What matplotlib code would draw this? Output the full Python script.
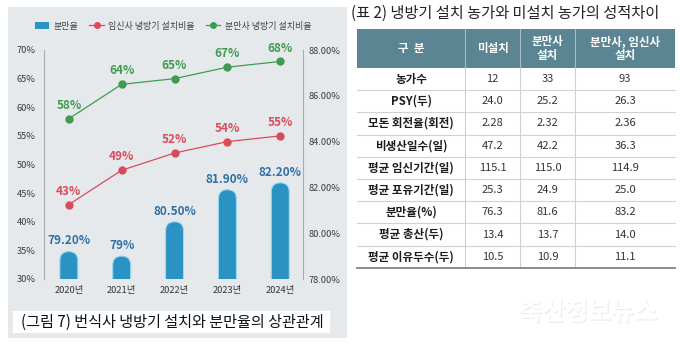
import matplotlib
matplotlib.use("Agg")
import matplotlib.pyplot as plt
import matplotlib.patheffects as pe
from matplotlib.lines import Line2D
from matplotlib.patches import FancyBboxPatch, Patch, Rectangle

plt.rcParams["font.family"] = ["Noto Sans CJK KR", "DejaVu Sans"]

# chart data (그림 7)
years = ["2020년", "2021년", "2022년", "2023년", "2024년"]
farrowing_rate = [79.2, 79.0, 80.5, 81.9, 82.2]
farrowing_labels = ["79.20%", "79%", "80.50%", "81.90%", "82.20%"]
gestation_ac = [43, 49, 52, 54, 55]
farrowing_ac = [58, 64, 65, 67, 68]
legend_labels = ["분만율", "임신사 냉방기 설치비율", "분만사 냉방기 설치비율"]
caption = "(그림 7) 번식사 냉방기 설치와 분만율의 상관관계"

# table data (표 2)
table_title = "(표 2) 냉방기 설치 농가와 미설치 농가의 성적차이"
col_headers = ["구  분", "미설치", "분만사\n설치", "분만사, 임신사\n설치"]
row_labels = ["농가수", "PSY(두)", "모돈 회전율(회전)", "비생산일수(일)",
              "평균 임신기간(일)", "평균 포유기간(일)", "분만율(%)",
              "평균 총산(두)", "평균 이유두수(두)"]
no_install = ["12", "24.0", "2.28", "47.2", "115.1", "25.3", "76.3", "13.4", "10.5"]
farrowing_install = ["33", "25.2", "2.32", "42.2", "115.0", "24.9", "81.6", "13.7", "10.9"]
both_install = ["93", "26.3", "2.36", "36.3", "114.9", "25.0", "83.2", "14.0", "11.1"]

BLUE = "#2b93c4"
RED = "#d94b5b"
GREEN = "#3f9b50"

W, H = 680, 346
fig = plt.figure(figsize=(W / 100, H / 100), dpi=100)

# pixel-coordinate layer for panel, caption, table
bg = fig.add_axes([0, 0, 1, 1])
bg.set_xlim(0, W)
bg.set_ylim(H, 0)
bg.axis("off")
bg.set_zorder(-1)
bg.add_patch(Rectangle((8, 7), 339, 331, color="#e6e9ec", lw=0))
bg.add_patch(Rectangle((13, 311), 317, 22, color="white", lw=0))
bg.text(21, 322, caption, fontsize=10.9, ha="left", va="center", color="#111111")

# chart
ax_l, ax_r, ax_t, ax_b = 44, 303, 50, 279
ax = fig.add_axes([ax_l / W, 1 - ax_b / H, (ax_r - ax_l) / W, (ax_b - ax_t) / H])
ax2 = ax.twinx()
ax2.set_zorder(1)
ax.set_zorder(2)
ax.patch.set_visible(False)

x = list(range(len(years)))
ax.set_xlim(-0.47, 4.43)
ax.set_ylim(30, 70)
ax2.set_ylim(78, 88)

bars = ax2.bar(x, [v - 77 for v in farrowing_rate], bottom=77, width=0.34)
px_x = (ax_r - ax_l) / (ax.get_xlim()[1] - ax.get_xlim()[0])
px_y = (ax_b - ax_t) / (ax2.get_ylim()[1] - ax2.get_ylim()[0])
for rect in bars:
    rect.set_visible(False)
    w = rect.get_width()
    rounded = FancyBboxPatch((rect.get_x(), rect.get_y()), w, rect.get_height(),
                             boxstyle=f"round,pad=0,rounding_size={w / 2}",
                             mutation_aspect=px_x / px_y,
                             facecolor=BLUE, edgecolor="#9ad8ef", lw=0.8)
    ax2.add_patch(rounded)
for xi, v, lbl in zip(x, farrowing_rate, farrowing_labels):
    ax2.annotate(lbl, (xi, v), xytext=(0, 3), textcoords="offset points",
                 ha="center", va="bottom", fontsize=8.5, fontweight="bold",
                 color="#2f6fa6")

for vals, col in [(gestation_ac, RED), (farrowing_ac, GREEN)]:
    ax.plot(x, vals, color=col, lw=0.9, marker="o", ms=5)
    for xi, v in zip(x, vals):
        ax.annotate(f"{v}%", (xi, v), xytext=(0, 5), textcoords="offset points",
                    ha="center", va="bottom", fontsize=8.5, fontweight="bold",
                    color=col)

ax.set_yticks(range(30, 71, 5), [f"{t}%" for t in range(30, 71, 5)])
ax2.set_yticks(range(78, 89, 2), [f"{t:.2f}%" for t in range(78, 89, 2)])
ax.set_xticks(x, years)
ax.tick_params(axis="y", length=0, labelsize=6.7, labelcolor="#3c3c3c", pad=6)
ax2.tick_params(axis="y", length=0, labelsize=6.7, labelcolor="#3c3c3c", pad=4)
ax.tick_params(axis="x", length=0, labelsize=6.7, labelcolor="#333333", pad=5)
for a in (ax, ax2):
    for s in ("top", "bottom"):
        a.spines[s].set_visible(False)
ax.spines["right"].set_visible(False)
ax2.spines["left"].set_visible(False)
ax.spines["left"].set_color("#a9adb1")
ax2.spines["right"].set_color("#a9adb1")
ax.spines["left"].set_linewidth(0.8)
ax2.spines["right"].set_linewidth(0.8)

handles = [Patch(facecolor=BLUE, edgecolor="none"),
           Line2D([], [], color=RED, marker="o", ms=4, lw=0.9),
           Line2D([], [], color=GREEN, marker="o", ms=4, lw=0.9)]
fig.legend(handles, legend_labels, loc="center", bbox_to_anchor=(173 / W, 1 - 26 / H),
           ncol=3, frameon=False, fontsize=6.5, handlelength=1.6, handleheight=0.9,
           handletextpad=0.5, columnspacing=1.2, labelcolor="#444444")

# table
bg.text(351, 13.5, table_title, fontsize=11, ha="left", va="center", color="#222222")
xs = [357, 465, 520, 575, 675]
head_top, head_bot, row_h = 29, 68, 22.2
n = len(row_labels)
tbl_bot = head_bot + n * row_h
bg.add_patch(Rectangle((xs[0], head_top), xs[-1] - xs[0], head_bot - head_top,
                       color="#5b8593", lw=0))
for i, h in enumerate(col_headers):
    bg.text((xs[i] + xs[i + 1]) / 2, (head_top + head_bot) / 2, h, color="white",
            fontsize=8.3, fontweight="bold", ha="center", va="center", linespacing=1.1)
for xv in xs[1:-1]:
    bg.plot([xv, xv], [head_top, head_bot], color="#a5bcc5", lw=0.8)
    bg.plot([xv, xv], [head_bot, tbl_bot], color="#c9cfd4", lw=0.8)

columns = [row_labels, no_install, farrowing_install, both_install]
for r in range(n):
    yc = head_bot + (r + 0.5) * row_h
    for c, col in enumerate(columns):
        bg.text((xs[c] + xs[c + 1]) / 2, yc, col[r], ha="center", va="center",
                fontsize=8.3 if c == 0 else 8,
                fontweight="bold" if c == 0 else "normal",
                color="#1c1c1c" if c == 0 else "#333333")
    if r < n - 1:
        yl = head_bot + (r + 1) * row_h
        bg.plot([xs[0], xs[-1]], [yl, yl], color="#cdd2d6", lw=0.8)
bg.plot([xs[0], xs[-1]], [tbl_bot, tbl_bot], color="#7d858b", lw=1.3)

bg.text(588, 313, "축산정보뉴스", fontsize=18, fontweight="bold", color="#ffffff",
        ha="center", va="center",
        path_effects=[pe.withSimplePatchShadow(offset=(0.8, -0.8),
                                               shadow_rgbFace="#d6d6d6", alpha=0.5)])

fig.savefig("out.png", dpi=100)
